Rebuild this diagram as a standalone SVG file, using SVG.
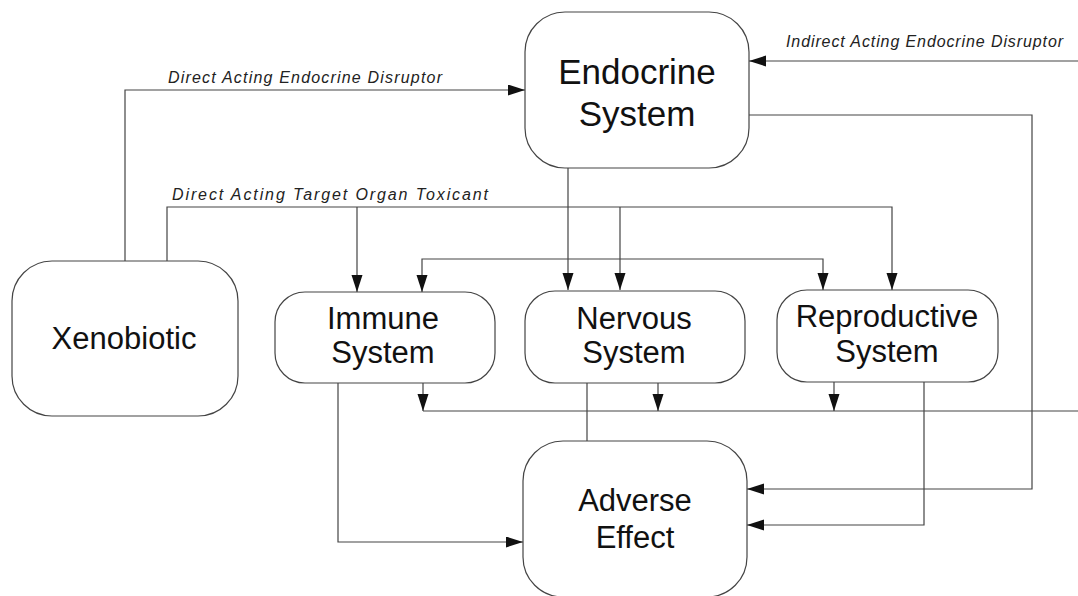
<svg xmlns="http://www.w3.org/2000/svg" width="1078" height="596" viewBox="0 0 1078 596">
<style>
.box{fill:#fff;stroke:#444;stroke-width:1.2}
.nt{font-family:"Liberation Sans",Arial,sans-serif;font-size:31px;fill:#111;text-anchor:middle}
.big{font-size:35px}
.lbl{font-family:"Liberation Sans",Arial,sans-serif;font-size:16px;font-style:italic;fill:#222}
.c{fill:none;stroke:#444;stroke-width:1.2}
.a{marker-end:url(#ah)}
</style>
<defs>
<marker id="ah" markerUnits="userSpaceOnUse" markerWidth="17" markerHeight="12" refX="17" refY="5.5" orient="auto">
<path d="M0,0 L17,5.5 L0,11 z" fill="#111"/>
</marker>
</defs>
<rect width="1078" height="596" fill="#fff"/>
<g id="connectors">
<path class="c a" d="M125,261 V90 H525"/>
<path class="c a" d="M167,261 V207 H892 V290"/>
<path class="c a" d="M357,207 V292"/>
<path class="c a" d="M620,207 V290"/>
<path class="c a" d="M568,168 V290"/>
<path class="c a" d="M620,259 H422 V292"/>
<path class="c a" d="M620,259 H823 V290"/>
<path class="c a" d="M1078,61 H749"/>
<path class="c a" d="M749,115 H1032 V489 H747"/>
<path class="c a" d="M924,382 V525 H747"/>
<path class="c a" d="M338,383 V542 H523"/>
<path class="c" d="M587,383 V441"/>
<path class="c" d="M1078,411 H423"/>
<path class="c a" d="M423,383 V411"/>
<path class="c a" d="M658,383 V411"/>
<path class="c a" d="M834,382 V411"/>
<text class="lbl" x="168" y="83" textLength="274" lengthAdjust="spacing">Direct Acting Endocrine Disruptor</text>
<text class="lbl" x="172" y="200" textLength="316" lengthAdjust="spacing">Direct Acting Target Organ Toxicant</text>
<text class="lbl" x="786" y="47" textLength="277" lengthAdjust="spacing">Indirect Acting Endocrine Disruptor</text>
</g>
<g id="endocrine">
<rect class="box" x="525" y="12" width="224" height="156" rx="40" ry="40"/>
<text class="nt big" x="637" y="84">Endocrine</text>
<text class="nt big" x="637" y="126">System</text>
</g>
<g id="xenobiotic">
<rect class="box" x="12" y="261" width="226" height="155" rx="40" ry="40"/>
<text class="nt" x="124" y="349">Xenobiotic</text>
</g>
<g id="immune">
<rect class="box" x="275" y="292" width="220" height="91" rx="30" ry="30"/>
<text class="nt" x="383" y="329">Immune</text>
<text class="nt" x="383" y="363">System</text>
</g>
<g id="nervous">
<rect class="box" x="525" y="291" width="220" height="92" rx="30" ry="30"/>
<text class="nt" x="634" y="329">Nervous</text>
<text class="nt" x="634" y="363">System</text>
</g>
<g id="reproductive">
<rect class="box" x="777" y="290" width="221" height="92" rx="30" ry="30"/>
<text class="nt" x="887" y="327">Reproductive</text>
<text class="nt" x="887" y="362">System</text>
</g>
<g id="adverse">
<rect class="box" x="523" y="441" width="224" height="156" rx="40" ry="40"/>
<text class="nt" x="635" y="511">Adverse</text>
<text class="nt" x="635" y="548">Effect</text>
</g>
</svg>
